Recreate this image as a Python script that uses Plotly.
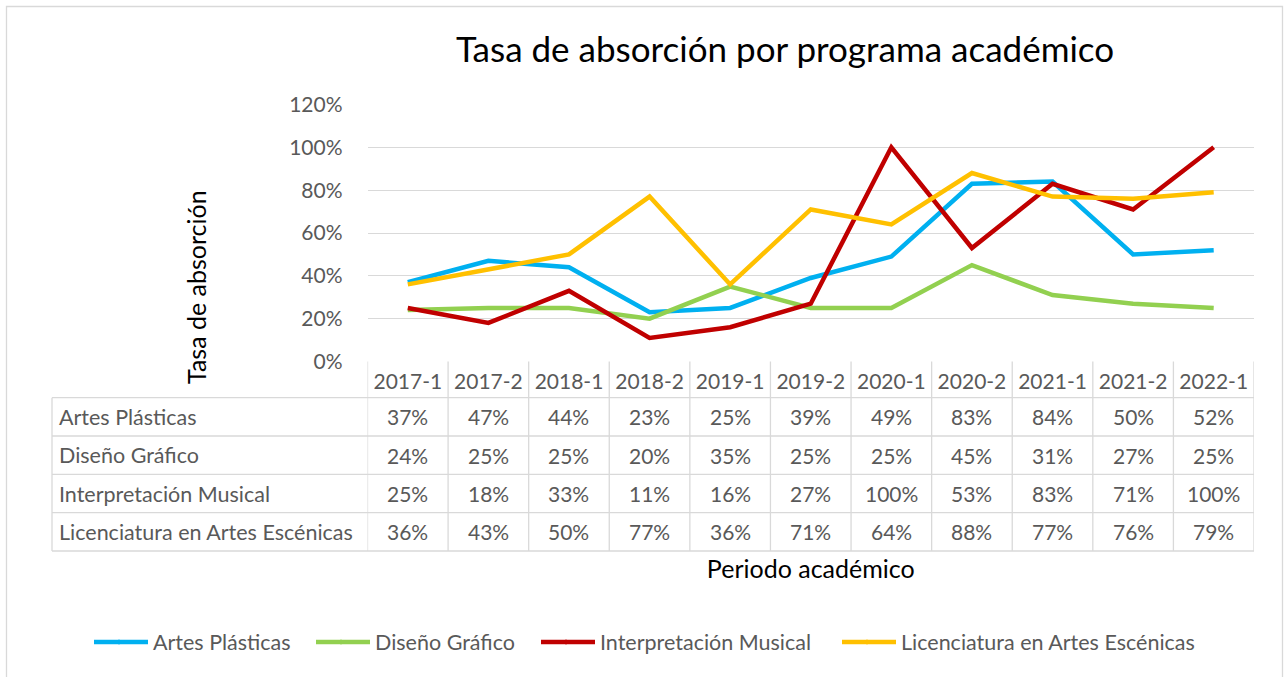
import plotly.graph_objects as go

# ---------------- data ----------------
periods = ["2017-1", "2017-2", "2018-1", "2018-2", "2019-1", "2019-2",
           "2020-1", "2020-2", "2021-1", "2021-2", "2022-1"]
programs = ["Artes Plásticas", "Diseño Gráfico", "Interpretación Musical",
            "Licenciatura en Artes Escénicas"]
artes_plasticas = [0.37, 0.47, 0.44, 0.23, 0.25, 0.39, 0.49, 0.83, 0.84, 0.50, 0.52]
diseno_grafico = [0.24, 0.25, 0.25, 0.20, 0.35, 0.25, 0.25, 0.45, 0.31, 0.27, 0.25]
interpretacion_musical = [0.25, 0.18, 0.33, 0.11, 0.16, 0.27, 1.00, 0.53, 0.83, 0.71, 1.00]
licenciatura_escenicas = [0.36, 0.43, 0.50, 0.77, 0.36, 0.71, 0.64, 0.88, 0.77, 0.76, 0.79]
y_tick_values = [0, 0.2, 0.4, 0.6, 0.8, 1.0, 1.2]
y_tick_labels = ["0%", "20%", "40%", "60%", "80%", "100%", "120%"]

series = [artes_plasticas, diseno_grafico, interpretacion_musical, licenciatura_escenicas]
colors = ["#00B0F0", "#92D050", "#C00000", "#FFC000"]

# ---------------- layout geometry (pixels) ----------------
W, H = 1286, 677
FONT = "Lato"
GREY = "#595959"
BORDER = "#D9D9D9"
TXT = 21


def px(x):
    return x / W


def py(y):
    return 1 - y / H


plot_left, plot_right = 367.5, 1254
y_zero, y_top = 361.5, 104.5
row_bounds = [361.5, 397.7, 436.0, 474.3, 512.7, 551.0]
label_left = 52
legend_y = 642
legend_text_x = [153, 375, 600, 901]   # where each legend entry's text starts
legend_ids = ["legend", "legend2", "legend3", "legend4"]

fig = go.Figure()
for name, vals, col, lid in zip(programs, series, colors, legend_ids):
    fig.add_trace(go.Scatter(
        x=periods, y=vals, name=name, mode="lines", legend=lid,
        line=dict(color=col, width=4.5),
        hovertemplate="%{x}: %{y:.0%}<extra>" + name + "</extra>",
    ))

shapes = []
# outer chart border
shapes.append(dict(type="rect", xref="paper", yref="paper",
                   x0=px(6.5), x1=px(1282.5), y0=py(690), y1=py(6.5),
                   line=dict(color=BORDER, width=1.3), layer="below"))
# table vertical lines (category boundaries)
for k in range(len(periods) + 1):
    shapes.append(dict(type="line", xref="x", yref="paper",
                       x0=k - 0.5, x1=k - 0.5,
                       y0=py(row_bounds[0]), y1=py(row_bounds[-1]),
                       line=dict(color=BORDER, width=1.3)))
# row-label column left border
shapes.append(dict(type="line", xref="paper", yref="paper",
                   x0=px(label_left), x1=px(label_left),
                   y0=py(row_bounds[1]), y1=py(row_bounds[-1]),
                   line=dict(color=BORDER, width=1.3)))
# horizontal table lines
for yb in row_bounds[1:]:
    shapes.append(dict(type="line", xref="paper", yref="paper",
                       x0=px(label_left), x1=px(plot_right),
                       y0=py(yb), y1=py(yb),
                       line=dict(color=BORDER, width=1.3)))
# lengthen the legend line keys (Excel draws longer keys than plotly)
for tx, col in zip(legend_text_x, colors):
    shapes.append(dict(type="line", xref="paper", yref="paper",
                       x0=px(tx - 59), x1=px(tx - 33),
                       y0=py(legend_y), y1=py(legend_y),
                       line=dict(color=col, width=4.5)))

annotations = []
for i, (name, vals) in enumerate(zip(programs, series)):
    yc = (row_bounds[i + 1] + row_bounds[i + 2]) / 2
    annotations.append(dict(text=name, xref="paper", yref="paper",
                            x=px(57), y=py(yc), xanchor="left", yanchor="middle",
                            showarrow=False, font=dict(family=FONT, size=TXT + 0.5, color=GREY)))
    for p, v in zip(periods, vals):
        annotations.append(dict(text=f"{round(v * 100)}%", xref="x", yref="paper",
                                x=p, y=py(yc), xanchor="center", yanchor="middle",
                                showarrow=False, font=dict(family=FONT, size=TXT, color=GREY)))
# y axis title (centred on plot + table like the original)
annotations.append(dict(text="Tasa de absorción", xref="paper", yref="paper",
                        x=px(196), y=py(287), xanchor="center", yanchor="middle",
                        textangle=-90, showarrow=False,
                        font=dict(family=FONT, size=25, color="#000000")))

legend_layouts = {}
for lid, tx in zip(legend_ids, legend_text_x):
    legend_layouts[lid] = dict(
        orientation="h", x=px(tx - 40), xanchor="left",
        y=py(legend_y), yanchor="middle", visible=True,
        font=dict(family=FONT, size=21.5, color=GREY),
        bgcolor="rgba(0,0,0,0)", itemwidth=30)

fig.update_layout(
    width=W, height=H, autosize=False, showlegend=True,
    margin=dict(l=0, r=0, t=0, b=0),
    paper_bgcolor="white", plot_bgcolor="white",
    font=dict(family=FONT, color=GREY),
    title=dict(text="Tasa de absorción por programa académico",
               x=px(785), xanchor="center", y=py(50), yanchor="middle",
               font=dict(family=FONT, size=35, color="#000000")),
    xaxis=dict(domain=[px(plot_left), px(plot_right)], type="category",
               categoryorder="array", categoryarray=periods,
               range=[-0.5, len(periods) - 0.5],
               showgrid=False, zeroline=False, showline=False, ticks="",
               tickfont=dict(family=FONT, size=TXT, color=GREY),
               ticklabelstandoff=5,
               title=dict(text="Periodo académico", standoff=168,
                          font=dict(family=FONT, size=25, color="#000000")),
               automargin=False, fixedrange=True),
    yaxis=dict(domain=[py(y_zero), py(y_top)], range=[0, 1.2],
               tickvals=y_tick_values, ticktext=y_tick_labels,
               showgrid=True, gridcolor=BORDER, gridwidth=1.3,
               zeroline=False, showline=False, ticks="",
               tickfont=dict(family=FONT, size=TXT, color=GREY),
               ticklabelstandoff=24,
               automargin=False, fixedrange=True),
    shapes=shapes,
    annotations=annotations,
    **legend_layouts,
)

fig.write_html("out.html", config={"displayModeBar": False},
               post_script="document.body.style.margin='0';")
